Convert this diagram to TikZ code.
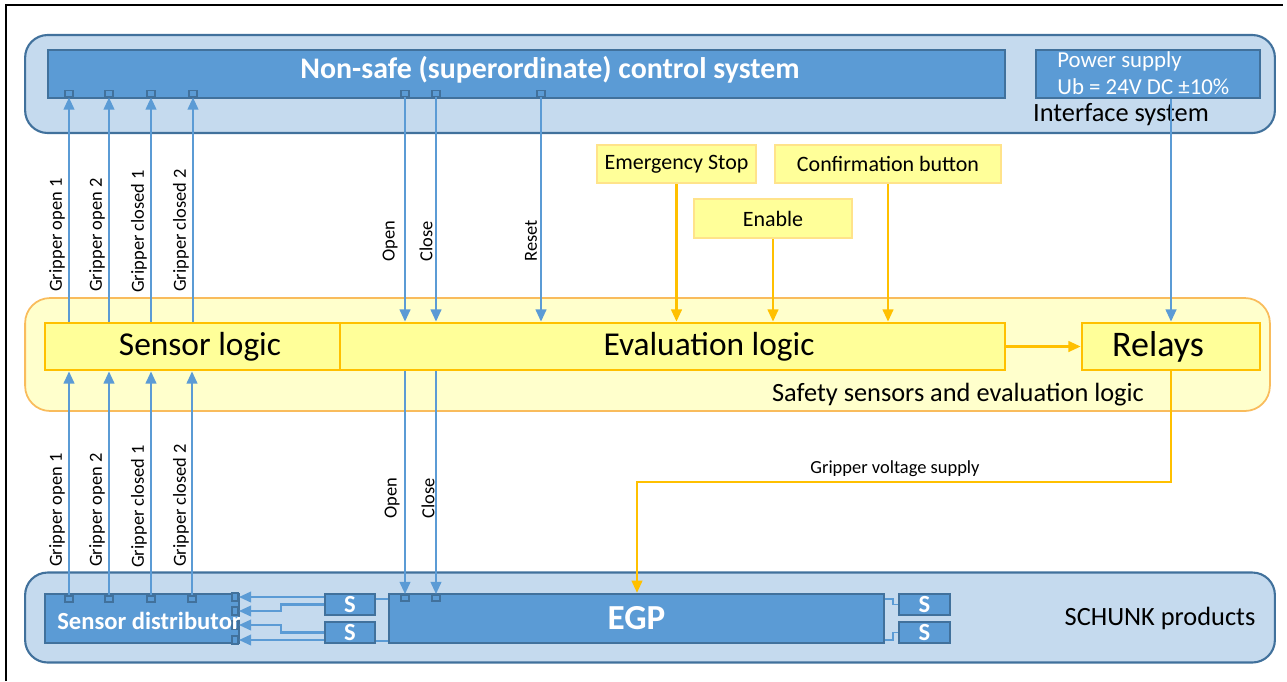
\documentclass[tikz,border=0pt]{standalone}
\usepackage{fontspec}
\setmainfont{Carlito}
\usetikzlibrary{arrows.meta}

\definecolor{bluefill}{HTML}{5B9BD5}
\definecolor{blueedge}{HTML}{41719C}
\definecolor{bluelight}{HTML}{C5DAEE}
\definecolor{yellowbg}{HTML}{FFFFCC}
\definecolor{yellowbox}{HTML}{FFFF99}
\definecolor{yellowedge}{HTML}{FFC000}
\definecolor{yellowsoft}{HTML}{FFE38A}
\definecolor{orangeedge}{HTML}{F9BC5C}

\begin{document}
\begin{tikzpicture}[x=0.02cm, y=-0.02cm,
    group/.style={draw=blueedge, line width=1.2pt, fill=bluelight, rounded corners=0.45cm, inner sep=0pt},
    darkbox/.style={draw=blueedge, line width=1.3pt, fill=bluefill, inner sep=0pt, text=white, font=\bfseries\fontsize{14}{16}\selectfont},
    safegroup/.style={draw=orangeedge, line width=1pt, fill=yellowbg, rounded corners=0.5cm, inner sep=0pt},
    logicbox/.style={draw=yellowedge, line width=1.5pt, fill=yellowbox, inner sep=0pt, font=\fontsize{19}{22}\selectfont},
    button/.style={draw=yellowsoft, line width=1.5pt, fill=yellowbox, inner sep=0pt, font=\fontsize{12.5}{15}\selectfont},
    pin/.style={draw=blueedge, line width=1pt, fill=bluefill, minimum width=0.16cm, minimum height=0.12cm, inner sep=0pt},
    grouptxt/.style={font=\fontsize{15}{18}\selectfont},
    sig/.style={rotate=90, anchor=west, inner sep=0pt, font=\fontsize{10.5}{13}\selectfont},
    barrow/.style={draw=bluefill, line width=1.4pt, -{Triangle[length=7pt, width=6pt]}},
    oarrow/.style={draw=yellowedge, line width=1.4pt, -{Triangle[length=7pt, width=6pt]}},
    bline/.style={draw=bluefill, line width=0.8pt}]

  \useasboundingbox (0,0) rectangle (1287,681);
  % Cornice
  \draw[black, line width=0.8pt] (6,681) -- (6,5) -- (1283,5);

  % Sistema di interfaccia
  \node[group, minimum width=25cm, minimum height=1.96cm] (iface) at (650,84) {};
  \node[darkbox, minimum width=19.14cm, minimum height=0.96cm] (ctrl) at (526.5,74) {};
  \node[text=white, font=\bfseries\fontsize{17}{20}\selectfont] (ctrltxt) at (550,70) {Non-safe (superordinate) control system};
  \node[darkbox, minimum width=4.48cm, minimum height=0.96cm] (psu) at (1148,74) {};
  \node[text=white, align=left, anchor=west, inner sep=0pt, font=\fontsize{13}{15}\selectfont] (psutxt) at (1057,73) {Power supply\\Ub = 24V DC ±10\%};
  \node[grouptxt] (ifacetxt) at (1121,115) {Interface system};

  % Connettori del controllo
  \foreach \nm/\xx in {c1/69, c2/109, c3/151, c4/193, c5/405, c6/436, c7/541}
    \node[pin] (\nm) at (\xx,93.5) {};

  % Pulsanti
  \node[button, minimum width=3.18cm, minimum height=0.76cm] (estop) at (676.5,164) {Emergency Stop};
  \node[button, minimum width=3.16cm, minimum height=0.78cm] (enable) at (773,218.5) {Enable};
  \node[button, minimum width=4.52cm, minimum height=0.76cm] (confirm) at (888,164) {Confirmation button};

  % Sensori di sicurezza e logica
  \node[safegroup, minimum width=24.9cm, minimum height=2.26cm] (safety) at (647.5,354.5) {};
  \node[logicbox, minimum width=5.9cm, minimum height=0.94cm] (sensor) at (192.5,346.5) {};
  \node[font=\fontsize{19}{22}\selectfont] (sensortxt) at (200,347) {Sensor logic};
  \node[logicbox, minimum width=13.3cm, minimum height=0.94cm] (eval) at (672.5,346.5) {};
  \node[font=\fontsize{19}{22}\selectfont] (evaltxt) at (709,347) {Evaluation logic};
  \node[logicbox, minimum width=3.56cm, minimum height=0.94cm] (relays) at (1171,346.5) {};
  \node[font=\fontsize{20.5}{24}\selectfont] (relaystxt) at (1158,347) {Relays};
  \node[grouptxt] (safetytxt) at (958,395) {Safety sensors and evaluation logic};

  % Prodotti SCHUNK
  \node[group, minimum width=25cm, minimum height=1.8cm] (schunk) at (650,617.5) {};
  \node[grouptxt] (schunktxt) at (1160,618) {SCHUNK products};
  \node[darkbox, minimum width=3.88cm, minimum height=0.98cm] (dist) at (142,618.5) {};
  \node[darkbox, minimum width=1cm, minimum height=0.42cm] (S1) at (350,604.5) {S};
  \node[darkbox, minimum width=1cm, minimum height=0.42cm] (S2) at (350,632.5) {S};
  \node[darkbox, minimum width=9.9cm, minimum height=0.98cm, font=\bfseries\fontsize{20}{24}\selectfont] (egp) at (636.5,618.5) {EGP};
  \node[darkbox, minimum width=1.02cm, minimum height=0.42cm] (S3) at (924.5,604.5) {S};
  \node[darkbox, minimum width=1.02cm, minimum height=0.42cm] (S4) at (924.5,632.5) {S};

  % Connettori dei prodotti
  \foreach \nm/\xx in {d1/69, d2/109, d3/151, d4/192}
    \node[pin] (\nm) at (\xx,599) {};
  \foreach \nm/\yy in {r1/597, r2/611, r3/625, r4/640}
    \node[pin, minimum width=0.12cm, minimum height=0.16cm] (\nm) at (235,\yy) {};
  \foreach \nm/\xx in {e1/405, e2/436}
    \node[pin] (\nm) at (\xx,598) {};
  \node[text=white, font=\bfseries\fontsize{14}{16}\selectfont] (disttxt) at (149,621) {Sensor distributor};

  % Segnali verso il controllo
  \foreach \nm in {c1, c2, c3, c4}
    \draw[barrow] (\nm |- sensor.north) -- (\nm.south);
  \foreach \nm in {c5, c6, c7}
    \draw[barrow] (\nm.south) -- (\nm |- eval.north);
  \draw[barrow] (psu.south -| relays) -- (relays.north);

  % Segnali dai sensori
  \foreach \nm in {d1, d2, d3, d4}
    \draw[barrow] (\nm.north) -- (\nm |- sensor.south);
  \foreach \nm in {e1, e2}
    \draw[barrow] (\nm |- eval.south) -- (\nm.north);

  % Etichette dei segnali
  \node[sig] (go1) at (57,292) {Gripper open 1};
  \node[sig] (go2) at (97,292) {Gripper open 2};
  \node[sig] (gc1) at (139,293) {Gripper closed 1};
  \node[sig] (gc2) at (181,292) {Gripper closed 2};
  \node[sig] (op1) at (390,262) {Open};
  \node[sig] (cl1) at (426,262) {Close};
  \node[sig] (rst) at (531,262) {Reset};
  \node[sig] (go3) at (57,567) {Gripper open 1};
  \node[sig] (go4) at (97,567) {Gripper open 2};
  \node[sig] (gc3) at (139,568) {Gripper closed 1};
  \node[sig] (gc4) at (181,567) {Gripper closed 2};
  \node[sig] (op2) at (392,519) {Open};
  \node[sig] (cl2) at (428,519) {Close};

  % Pulsanti verso la logica
  \draw[oarrow] (estop.south) -- (estop.south |- eval.north);
  \draw[oarrow] (enable.south) -- (enable.south |- eval.north);
  \draw[oarrow] (confirm.south) -- (confirm.south |- eval.north);
  \draw[oarrow] (eval.east) -- (relays.west);

  % Alimentazione della pinza
  \coordinate (bend) at (637,482);
  \draw[oarrow] (relays.south) |- (bend) -- (bend |- egp.north);
  \node[font=\fontsize{10.5}{12}\selectfont] (vlbl) at (895,469) {Gripper voltage supply};

  % Cablaggio dei sensori S
  \draw[barrow] (S1.west |- r1) -- (r1.east);
  \draw[barrow] (S1.west) -- ++(-43,0) |- (r2.east);
  \draw[barrow] (S2.west) -- ++(-43,0) |- (r3.east);
  \draw[barrow] (S2.west |- r4) -- (r4.east);
  \coordinate (s1r) at ([yshift=-0.12cm]S1.north east);
  \coordinate (s2r) at ([yshift=0.06cm]S2.south east);
  \draw[bline] (s1r) -- (s1r -| egp.west);
  \draw[bline] (s2r) -- (s2r -| egp.west);
  \coordinate (egr1) at ([yshift=-0.12cm]egp.north east);
  \coordinate (egr2) at ([yshift=0.08cm]egp.south east);
  \draw[bline] (egr1) -- ++(8,0) |- (S3.west);
  \draw[bline] (egr2) -- ++(8,0) |- (S4.west);
\end{tikzpicture}
\end{document}
